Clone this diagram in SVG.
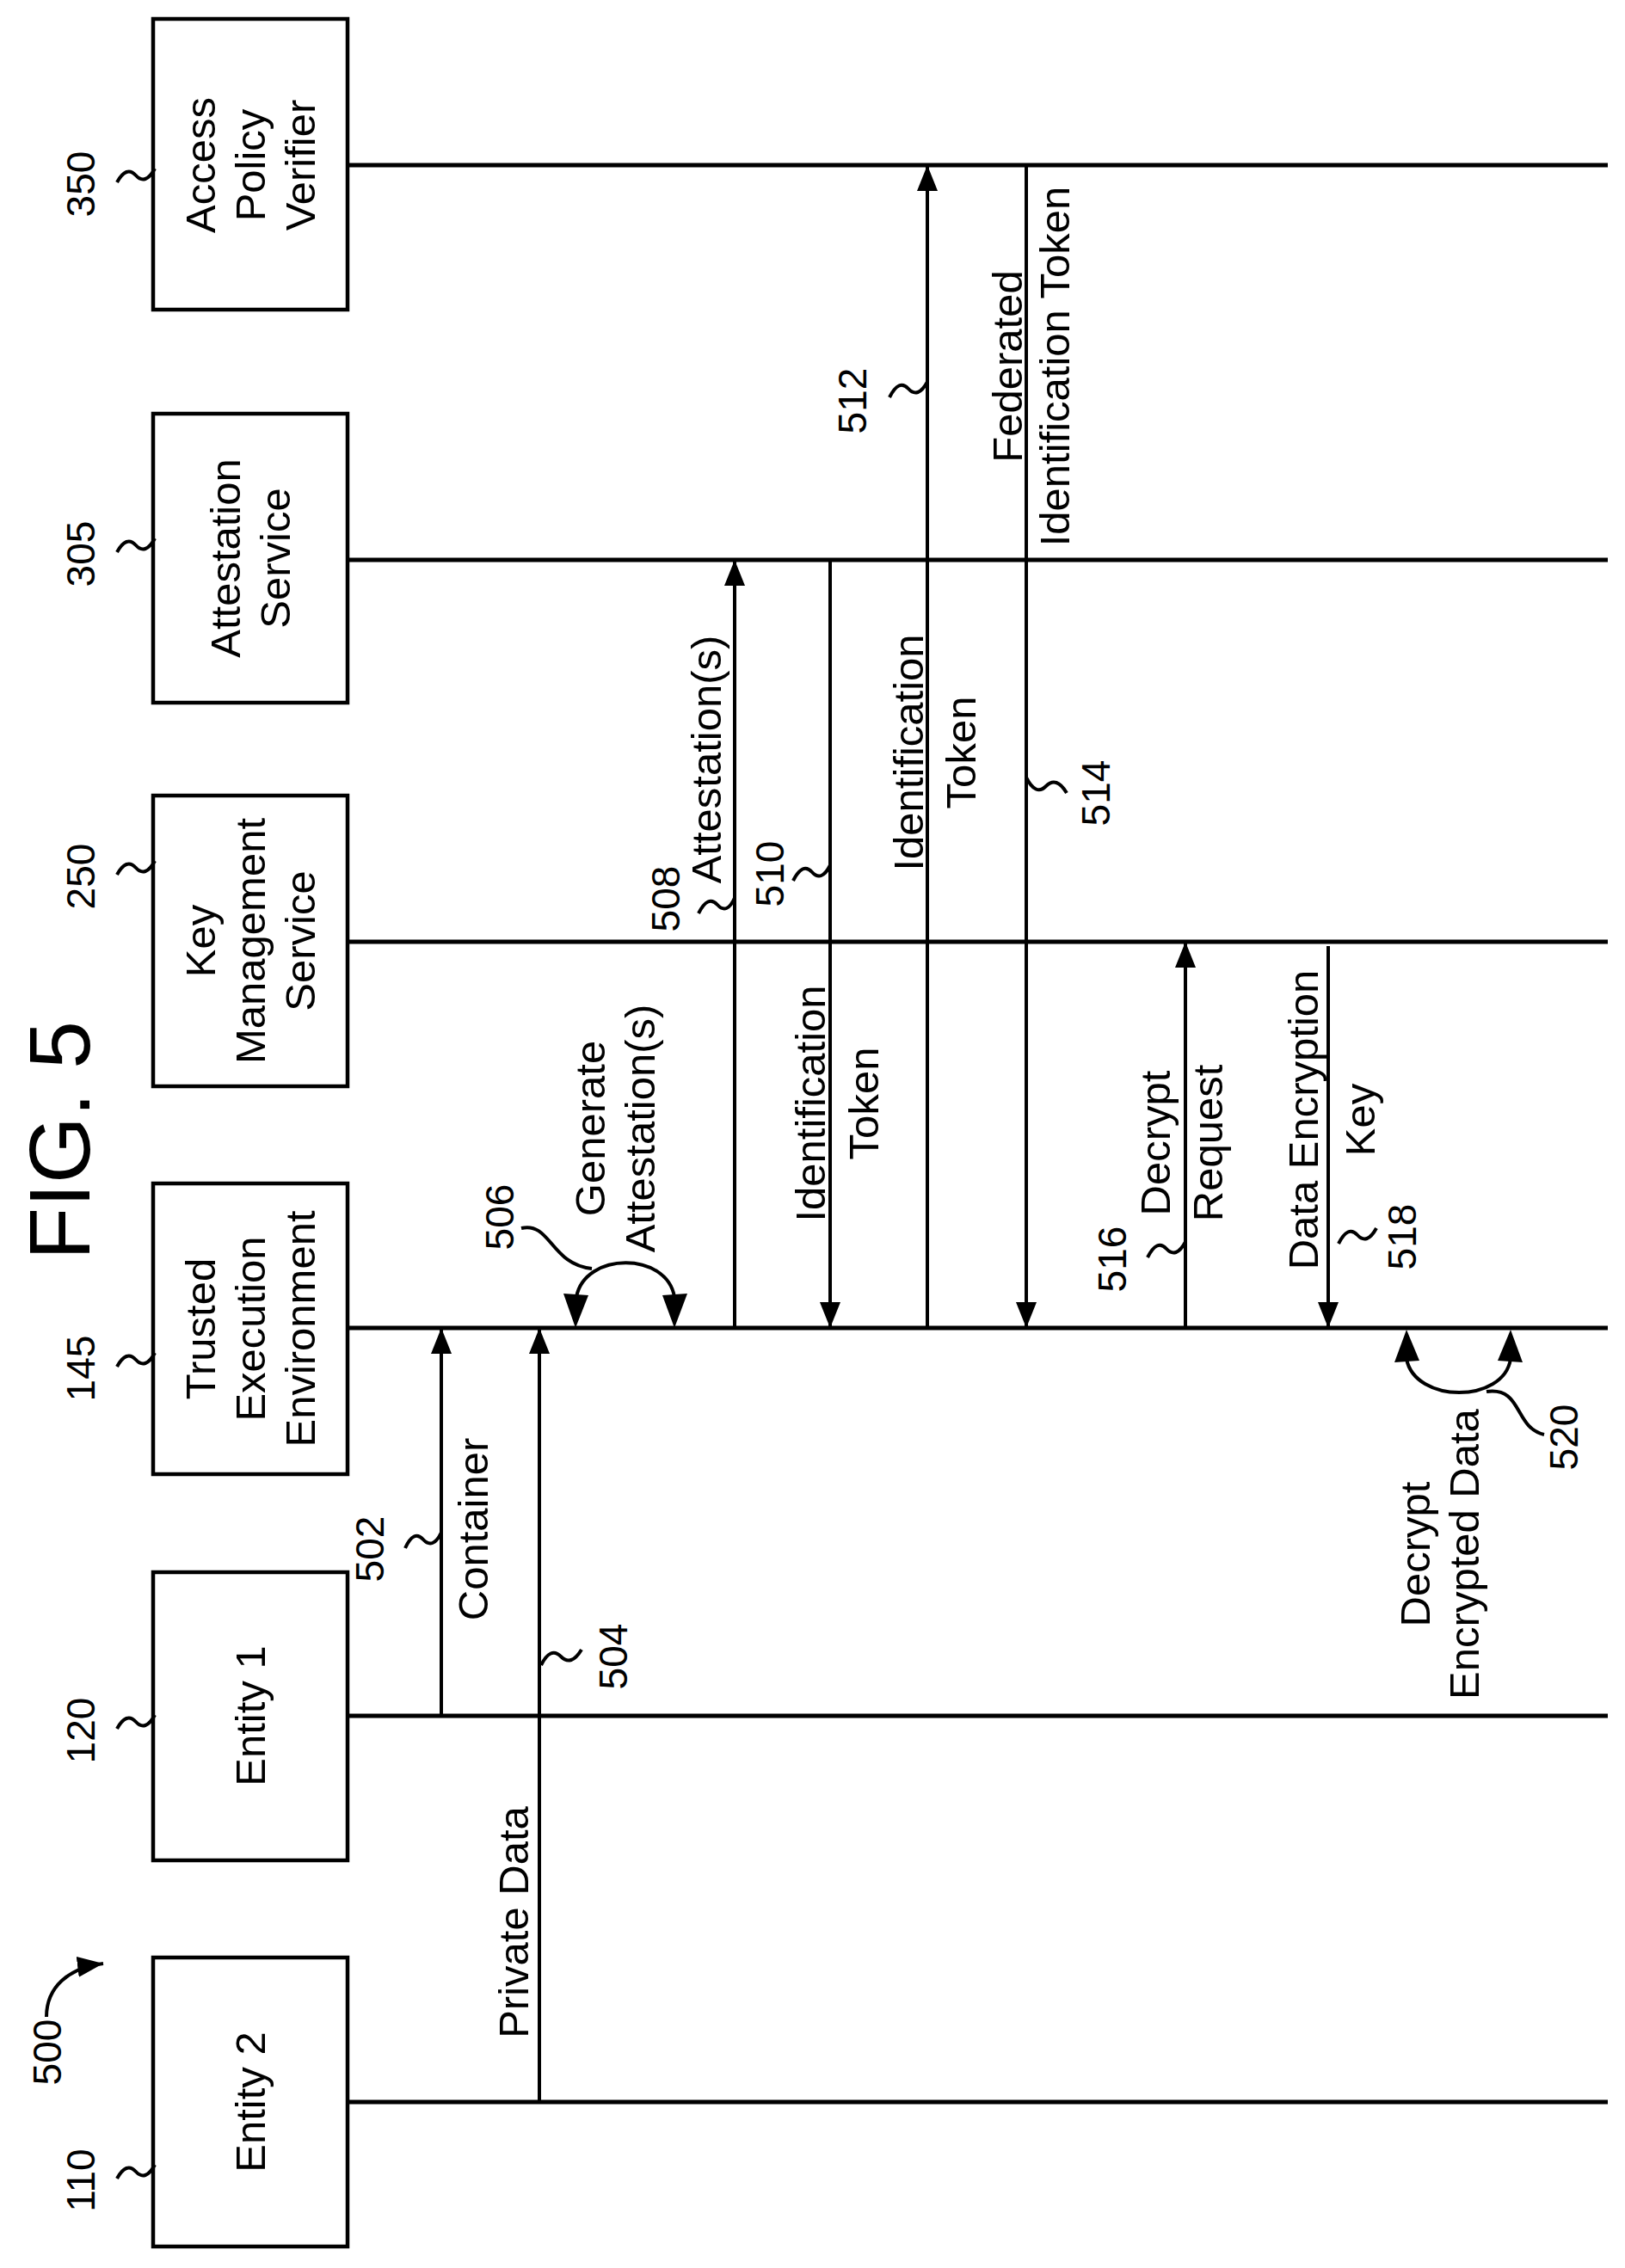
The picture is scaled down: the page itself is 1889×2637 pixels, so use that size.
<svg xmlns="http://www.w3.org/2000/svg" width="1889" height="2637" viewBox="0 0 1889 2637">
<style>
text{font-family:"Liberation Sans",Arial,sans-serif;fill:#000;text-anchor:middle}
.t{font-size:49px}
.n{font-size:46px}
.f{font-size:100px}
.box{fill:#fff;stroke:#000;stroke-width:4.5}
.life{stroke:#000;stroke-width:5;fill:none}
.msg{stroke:#000;stroke-width:4;fill:none}
.sq{stroke:#000;stroke-width:4;fill:none}
</style>
<defs>
<marker id="ah" viewBox="0 0 30 24" refX="30" refY="12" markerWidth="30" markerHeight="24" markerUnits="userSpaceOnUse" orient="auto">
<path d="M0,0 L30,12 L0,24 Z" fill="#000"/>
</marker>
</defs>
<rect width="1889" height="2637" fill="#fff"/>
<text class="f" transform="translate(104,1326) rotate(-90)">FIG. 5</text>
<g id="label500">
<text class="n" transform="translate(71,2386) rotate(-90)">500</text>
<path class="sq" d="M54,2345 C54,2310 80,2288 120,2283" marker-end="url(#ah)"/>
</g>
<g id="lifelines">
<line class="life" x1="404" y1="192" x2="1869" y2="192"/>
<line class="life" x1="404" y1="651" x2="1869" y2="651"/>
<line class="life" x1="404" y1="1095" x2="1869" y2="1095"/>
<line class="life" x1="404" y1="1544" x2="1869" y2="1544"/>
<line class="life" x1="404" y1="1995" x2="1869" y2="1995"/>
<line class="life" x1="404" y1="2444" x2="1869" y2="2444"/>
</g>
<g id="n350">
<rect class="box" x="178" y="22" width="226" height="338"/>
<text class="t" transform="translate(250,192) rotate(-90)">Access</text>
<text class="t" transform="translate(308,192) rotate(-90)">Policy</text>
<text class="t" transform="translate(366,192) rotate(-90)">Verifier</text>
<text class="n" transform="translate(110,214) rotate(-90)">350</text>
<path class="sq" d="M136,212 Q147,192 158,204 Q169,216 180,196"/>
</g>
<g id="n305">
<rect class="box" x="178" y="481" width="226" height="336"/>
<text class="t" transform="translate(279,649) rotate(-90)">Attestation</text>
<text class="t" transform="translate(337,649) rotate(-90)">Service</text>
<text class="n" transform="translate(110,644) rotate(-90)">305</text>
<path class="sq" d="M136,642 Q147,622 158,634 Q169,646 180,626"/>
</g>
<g id="n250">
<rect class="box" x="178" y="925" width="226" height="338"/>
<text class="t" transform="translate(250,1094) rotate(-90)">Key</text>
<text class="t" transform="translate(308,1094) rotate(-90)">Management</text>
<text class="t" transform="translate(366,1094) rotate(-90)">Service</text>
<text class="n" transform="translate(110,1019) rotate(-90)">250</text>
<path class="sq" d="M136,1017 Q147,997 158,1009 Q169,1021 180,1001"/>
</g>
<g id="n145">
<rect class="box" x="178" y="1376" width="226" height="338"/>
<text class="t" transform="translate(250,1545) rotate(-90)">Trusted</text>
<text class="t" transform="translate(308,1545) rotate(-90)">Execution</text>
<text class="t" transform="translate(366,1545) rotate(-90)">Environment</text>
<text class="n" transform="translate(110,1591) rotate(-90)">145</text>
<path class="sq" d="M136,1589 Q147,1569 158,1581 Q169,1593 180,1573"/>
</g>
<g id="n120">
<rect class="box" x="178" y="1828" width="226" height="335"/>
<text class="t" transform="translate(308,1995) rotate(-90)">Entity 1</text>
<text class="n" transform="translate(110,2012) rotate(-90)">120</text>
<path class="sq" d="M136,2010 Q147,1990 158,2002 Q169,2014 180,1994"/>
</g>
<g id="n110">
<rect class="box" x="178" y="2276" width="226" height="336"/>
<text class="t" transform="translate(308,2444) rotate(-90)">Entity 2</text>
<text class="n" transform="translate(110,2535) rotate(-90)">110</text>
<path class="sq" d="M136,2533 Q147,2513 158,2525 Q169,2537 180,2517"/>
</g>
<g id="connectors">
<line class="msg" x1="513" y1="1995" x2="513" y2="1544" marker-end="url(#ah)"/>
<line class="msg" x1="627" y1="2444" x2="627" y2="1544" marker-end="url(#ah)"/>
<line class="msg" x1="854" y1="1544" x2="854" y2="651" marker-end="url(#ah)"/>
<line class="msg" x1="965" y1="651" x2="965" y2="1544" marker-end="url(#ah)"/>
<line class="msg" x1="1078" y1="1544" x2="1078" y2="192" marker-end="url(#ah)"/>
<line class="msg" x1="1193" y1="192" x2="1193" y2="1544" marker-end="url(#ah)"/>
<line class="msg" x1="1378" y1="1544" x2="1378" y2="1095" marker-end="url(#ah)"/>
<line class="msg" x1="1544" y1="1100" x2="1544" y2="1544" marker-end="url(#ah)"/>
<path class="msg" d="M670,1508 C680,1455 775,1455 784,1508"/>
<path d="M669,1544 L655,1504 L684,1506 Z"/>
<path d="M784,1544 L770,1506 L799,1504 Z"/>
<path class="msg" d="M1635,1580 C1645,1632 1748,1632 1756,1580"/>
<path d="M1635,1546 L1621,1584 L1650,1582 Z"/>
<path d="M1756,1546 L1741,1582 L1770,1584 Z"/>
</g>
<g id="labels">
<text class="t" transform="translate(567,1778) rotate(-90)">Container</text>
<text class="n" transform="translate(446,1801) rotate(-90)">502</text>
<path class="sq" d="M471,1800 Q481,1778 492,1790 Q503,1802 513,1782"/>
<text class="t" transform="translate(614,2235) rotate(-90)">Private Data</text>
<text class="n" transform="translate(729,1926) rotate(-90)">504</text>
<path class="sq" d="M629,1936 Q640,1914 652,1926 Q664,1938 676,1918"/>
<text class="n" transform="translate(597,1415) rotate(-90)">506</text>
<path class="sq" d="M606,1428 C640,1420 640,1470 688,1475"/>
<text class="t" transform="translate(703,1312) rotate(-90)">Generate</text>
<text class="t" transform="translate(761,1312) rotate(-90)">Attestation(s)</text>
<text class="t" transform="translate(838,883) rotate(-90)">Attestation(s)</text>
<text class="n" transform="translate(790,1045) rotate(-90)">508</text>
<path class="sq" d="M812,1062 Q823,1040 834,1052 Q845,1064 854,1044"/>
<text class="n" transform="translate(911,1016) rotate(-90)">510</text>
<path class="sq" d="M922,1024 Q933,1002 944,1014 Q955,1026 965,1006"/>
<text class="t" transform="translate(959,1283) rotate(-90)">Identification</text>
<text class="t" transform="translate(1021,1283) rotate(-90)">Token</text>
<text class="t" transform="translate(1073,875) rotate(-90)">Identification</text>
<text class="t" transform="translate(1134,875) rotate(-90)">Token</text>
<text class="n" transform="translate(1007,466) rotate(-90)">512</text>
<path class="sq" d="M1034,462 Q1045,440 1056,452 Q1067,464 1078,444"/>
<text class="t" transform="translate(1188,426) rotate(-90)">Federated</text>
<text class="t" transform="translate(1243,426) rotate(-90)">Identification Token</text>
<text class="n" transform="translate(1290,922) rotate(-90)">514</text>
<path class="sq" d="M1193,904 Q1204,926 1216,914 Q1228,902 1240,922"/>
<text class="t" transform="translate(1360,1329) rotate(-90)">Decrypt</text>
<text class="t" transform="translate(1421,1329) rotate(-90)">Request</text>
<text class="n" transform="translate(1309,1464) rotate(-90)">516</text>
<path class="sq" d="M1334,1462 Q1345,1440 1356,1452 Q1367,1464 1378,1444"/>
<text class="t" transform="translate(1532,1302) rotate(-90)">Data Encryption</text>
<text class="t" transform="translate(1598,1302) rotate(-90)">Key</text>
<text class="n" transform="translate(1646,1438) rotate(-90)">518</text>
<path class="sq" d="M1556,1446 Q1567,1424 1578,1436 Q1589,1448 1600,1428"/>
<text class="t" transform="translate(1662,1807) rotate(-90)">Decrypt</text>
<text class="t" transform="translate(1719,1807) rotate(-90)">Encrypted Data</text>
<text class="n" transform="translate(1834,1671) rotate(-90)">520</text>
<path class="sq" d="M1728,1618 C1770,1612 1760,1660 1795,1668"/>
</g>
</svg>
